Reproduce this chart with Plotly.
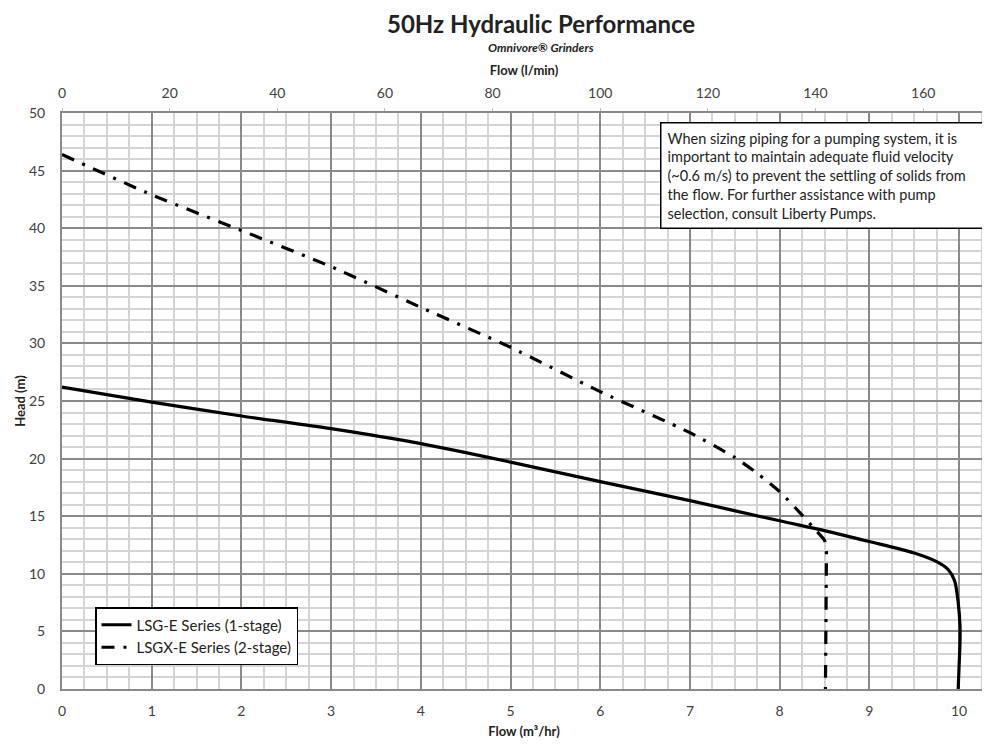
import plotly.graph_objects as go

# LSG-E Series (1-stage): flow (m3/hr) vs head (m)
lsg_flow = [0, 1, 2, 3, 4, 5, 6, 7, 8, 8.5, 9, 9.5, 9.75, 9.88, 9.95, 9.99, 10.01, 10.01, 10.0, 9.99]
lsg_head = [26.2, 24.9, 23.7, 22.6, 21.3, 19.7, 18.0, 16.35, 14.6, 13.75, 12.8, 11.8, 11.05, 10.35, 9.4, 7.5, 5.5, 4.0, 2.0, 0]

# LSGX-E Series (2-stage)
lsgx_flow = [0, 1, 2, 3, 4, 5, 6, 7, 7.5, 7.75, 8.0, 8.25, 8.4, 8.5, 8.52, 8.52, 8.51]
lsgx_head = [46.4, 42.9, 39.8, 36.66, 33.13, 29.66, 25.81, 22.25, 20.1, 18.72, 17.13, 15.1, 13.8, 12.9, 12.0, 10.5, 0]

top_ticks = [0, 20, 40, 60, 80, 100, 120, 140, 160]

X_MAX = 10.3
LPM_PER_M3H = 1000 / 60

FONT = "Lato"
fig = go.Figure()

fig.add_trace(go.Scatter(x=lsg_flow, y=lsg_head, mode="lines", name="LSG-E Series (1-stage)",
                         line=dict(color="black", width=3.2, shape="spline", smoothing=0.8)))
fig.add_trace(go.Scatter(x=lsgx_flow, y=lsgx_head, mode="lines", name="LSGX-E Series (2-stage)",
                         line=dict(color="black", width=3.2, dash="13px,9px,3px,9px", shape="spline", smoothing=0.6)))
# invisible trace to activate top axis
fig.add_trace(go.Scatter(x=[0, X_MAX * LPM_PER_M3H], y=[0, 0], xaxis="x2", mode="lines",
                         line=dict(width=0), showlegend=False, hoverinfo="skip", opacity=0))

tickfont = dict(family=FONT, size=14, color="#404040")
titlefont = dict(family=FONT, size=13, color="#222")

# page body has an 8px default margin, so the figure is shrunk by 8px in each direction
fig.update_layout(
    width=982, height=737,
    margin=dict(l=54, r=4, t=105, b=56),
    paper_bgcolor="white", plot_bgcolor="white",
    font=dict(family=FONT, color="#222"),
    xaxis=dict(range=[0, X_MAX], tickmode="linear", tick0=0, dtick=1, tickfont=tickfont,
               showgrid=True, gridcolor="#8a8a8a", gridwidth=1.5,
               minor=dict(tickmode="linear", tick0=0, dtick=0.25, showgrid=True, gridcolor="#d4d4d4", gridwidth=1.5),
               showline=True, linecolor="#8a8a8a", linewidth=2,
               zeroline=False, ticks="", ticklabelstandoff=8, automargin=False,
               title=dict(text="<b>Flow (m³/hr)</b>", font=titlefont, standoff=9)),
    xaxis2=dict(range=[0, X_MAX * LPM_PER_M3H], tickvals=top_ticks, overlaying="x", side="top",
                tickfont=tickfont, showgrid=False, showline=True, linecolor="#8a8a8a", linewidth=2,
                zeroline=False, ticks="outside", ticklen=3, tickcolor="#bbb", ticklabelstandoff=4,
                automargin=False,
                title=dict(text="<b>Flow (l/min)</b>", font=titlefont, standoff=6)),
    yaxis=dict(range=[0, 50], tickmode="linear", tick0=0, dtick=5, tickfont=tickfont,
               showgrid=True, gridcolor="#8a8a8a", gridwidth=1.5,
               minor=dict(tickmode="linear", tick0=0, dtick=1, showgrid=True, gridcolor="#d4d4d4", gridwidth=1.5),
               showline=True, linecolor="#8a8a8a", linewidth=2, mirror=True,
               zeroline=False, ticks="", ticklabelstandoff=12, automargin=False,
               title=dict(text="<b>Head (m)</b>", font=titlefont, standoff=0)),
    legend=dict(x=(95 - 62) / 924, y=(689 - 607) / 576, xanchor="left", yanchor="top",
                bgcolor="white", bordercolor="black", borderwidth=1.5,
                font=dict(family=FONT, size=15, color="#222"), tracegroupgap=4),
    showlegend=True,
)

fig.add_annotation(text="<b>50Hz Hydraulic Performance</b>", xref="paper", yref="paper",
                   x=(541 - 62) / 924, y=1 + (113 - 23) / 576, xanchor="center", yanchor="middle",
                   showarrow=False, font=dict(family=FONT, size=24, color="#222"))
fig.add_annotation(text="<b><i>Omnivore® Grinders</i></b>", xref="paper", yref="paper",
                   x=(541 - 62) / 924, y=1 + (113 - 47) / 576, xanchor="center", yanchor="middle",
                   showarrow=False, font=dict(family=FONT, size=12, color="#222"))

note = ("When sizing piping for a pumping system, it is<br>"
        "important to maintain adequate fluid velocity<br>"
        "(~0.6 m/s) to prevent the settling of solids from<br>"
        "the flow. For further assistance with pump<br>"
        "selection, consult Liberty Pumps.")
fig.add_annotation(text=note, xref="paper", yref="paper",
                   x=(660 - 62) / 924, y=(689 - 122) / 576, xanchor="left", yanchor="top",
                   align="left", showarrow=False, width=316,
                   bgcolor="white", bordercolor="black", borderwidth=1.5, borderpad=6,
                   font=dict(family=FONT, size=14.5, color="#222"))

fig.write_html("out.html")
